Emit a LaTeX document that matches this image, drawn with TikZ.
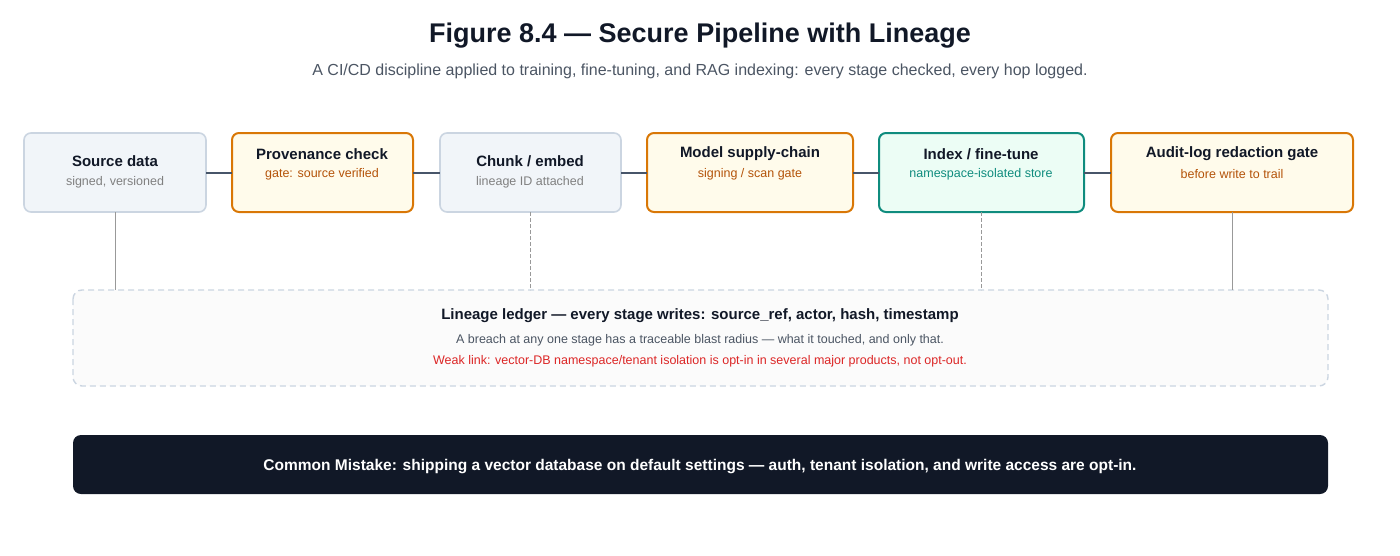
\documentclass[tikz,border=0pt]{standalone}
\usepackage{fontspec}
\setmainfont{Liberation Sans}
\definecolor{ink}{HTML}{111827}
\definecolor{sub}{HTML}{4B5563}
\definecolor{grayb}{HTML}{CBD5E1}
\definecolor{grayf}{HTML}{F1F5F9}
\definecolor{orb}{HTML}{D97706}
\definecolor{orf}{HTML}{FFFBEB}
\definecolor{ort}{HTML}{B45309}
\definecolor{teb}{HTML}{0F8C7E}
\definecolor{tef}{HTML}{ECFDF5}
\definecolor{tet}{HTML}{0F8C7E}
\definecolor{conn}{HTML}{475569}
\definecolor{redt}{HTML}{DC2626}
\tikzset{
  box/.style={rounded corners=7pt,line width=1.6pt},
  neutral/.style={box,draw=grayb,fill=grayf},
  gate/.style={box,draw=orb,fill=orf,line width=2pt},
  teal/.style={box,draw=teb,fill=tef,line width=2pt},
  hop/.style={draw=conn,line width=2.6pt},
  drop/.style={draw=gray!80,line width=1pt,dash pattern=on 4pt off 2pt},
  ttl/.style={font=\fontsize{15}{18}\selectfont\bfseries,text=ink},
  st/.style={font=\fontsize{12.5}{15}\selectfont},
}
\begin{document}
\begin{tikzpicture}[x=1pt,y=-1pt]
\useasboundingbox (0,0) rectangle (1400,555);
\node[font=\fontsize{27}{32}\selectfont\bfseries,text=ink] (title) at (700,36) {Figure 8.4 — Secure Pipeline with Lineage};
\node[font=\fontsize{16}{19}\selectfont,text=sub] (subt) at (700,71) {A CI/CD discipline applied to training, fine-tuning, and RAG indexing: every stage checked, every hop logged.};
% boxes
\draw[neutral] (24,133) rectangle (206,212); \coordinate (b1) at (115,172);
\draw[gate] (232,133) rectangle (413,212); \coordinate (b2) at (322,172);
\draw[neutral] (440,133) rectangle (621,212); \coordinate (b3) at (530,172);
\draw[gate] (647,133) rectangle (853,212); \coordinate (b4) at (750,172);
\draw[teal] (879,133) rectangle (1084,212); \coordinate (b5) at (981,172);
\draw[gate] (1111,133) rectangle (1353,212); \coordinate (b6) at (1232,172);
% connectors
\coordinate (c1a) at (206,173); \coordinate (c1b) at (232,173);
\coordinate (c2a) at (413,173); \coordinate (c2b) at (440,173);
\coordinate (c3a) at (621,173); \coordinate (c3b) at (647,173);
\coordinate (c4a) at (853,173); \coordinate (c4b) at (879,173);
\coordinate (c5a) at (1084,173); \coordinate (c5b) at (1111,173);
\draw[hop] (c1a)--(c1b); \draw[hop] (c2a)--(c2b); \draw[hop] (c3a)--(c3b);
\draw[hop] (c4a)--(c4b); \draw[hop] (c5a)--(c5b);
% texts
\node[ttl] (t1) at (115,161) {Source data};
\node[st,text=gray] (s1) at (115,182) {signed, versioned};
\node[ttl] (t2) at (322,154) {Provenance check};
\node[st,text=ort] (s2) at (322,174) {gate: source verified};
\node[ttl] (t3) at (530,161) {Chunk / embed};
\node[st,text=gray] (s3) at (530,182) {lineage ID attached};
\node[ttl] (t4) at (750,154) {Model supply-chain};
\node[st,text=ort] (s4) at (750,174) {signing / scan gate};
\node[ttl] (t5) at (981,154) {Index / fine-tune};
\node[st,text=tet] (s5) at (981,174) {namespace-isolated store};
\node[ttl] (t6) at (1232,154) {Audit-log redaction gate};
\node[st,text=ort] (s6) at (1232,174) {before write to trail};
% ledger
\draw[rounded corners=9pt,draw=grayb,fill=gray!3,line width=1.4pt,dash pattern=on 6pt off 4pt] (73,290) rectangle (1328,386);
\coordinate (d1a) at (115,212); \coordinate (d1b) at (115,290);
\coordinate (d3a) at (530,212); \coordinate (d3b) at (530,290);
\coordinate (d5a) at (981,212); \coordinate (d5b) at (981,290);
\coordinate (d6a) at (1232,212); \coordinate (d6b) at (1232,290);
\draw[draw=gray!80,line width=1pt] (d1a)--(d1b);
\draw[drop] (d3a)--(d3b);
\draw[drop] (d5a)--(d5b);
\draw[draw=gray!80,line width=1pt] (d6a)--(d6b);
\node[ttl] (lt) at (700,316) {Lineage ledger — every stage writes: source\_ref, actor, hash, timestamp};
\node[st,text=sub] (l2) at (700,340) {A breach at any one stage has a traceable blast radius — what it touched, and only that.};
\node[st,text=redt] (l3) at (700,361) {Weak link: vector-DB namespace/tenant isolation is opt-in in several major products, not opt-out.};
% mistake
\fill[ink,rounded corners=8pt] (73,435) rectangle (1328,494);
\node[font=\fontsize{15.5}{18}\selectfont\bfseries,text=white] (cm) at (700,467) {Common Mistake: shipping a vector database on default settings — auth, tenant isolation, and write access are opt-in.};
\end{tikzpicture}
\end{document}
